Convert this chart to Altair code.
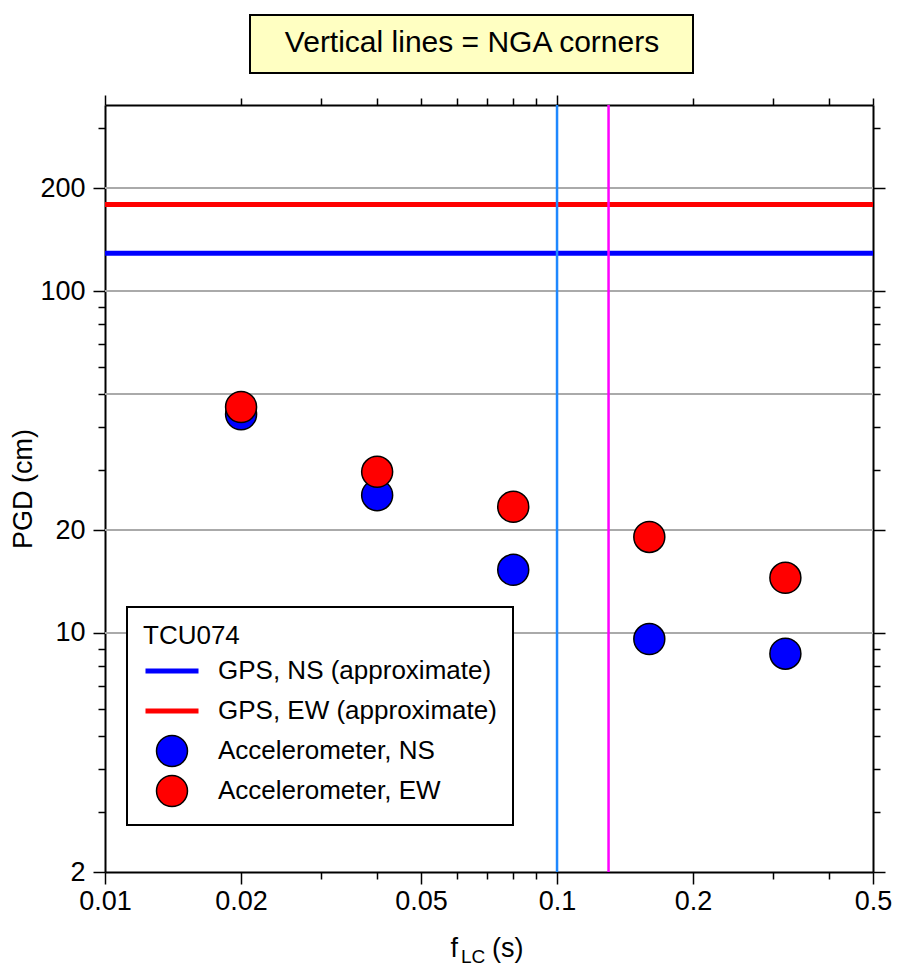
import json
import altair as alt
import pandas as pd

# ---------------- data ----------------
f_acc = [0.02, 0.04, 0.08, 0.16, 0.32]
pgd_ns = [43.6, 25.3, 15.3, 9.6, 8.7]
pgd_ew = [45.8, 29.6, 23.4, 19.1, 14.5]
gps_values = [129, 179]
nga_corners = [0.1, 0.13]
nga_colors = ["#1E88FF", "#FF00FF"]
grid_values = [10, 20, 50, 100, 200]
x_major = [0.01, 0.02, 0.05, 0.1, 0.2, 0.5]
x_minor = [0.03, 0.04, 0.06, 0.07, 0.08, 0.09, 0.3, 0.4]
x_top_major = [0.01, 0.1]
y_major = [2, 10, 20, 100, 200]
y_minor = [3, 4, 5, 6, 7, 8, 9, 30, 40, 50, 60, 70, 80, 90, 300]
series = ["GPS, NS (approximate)", "GPS, EW (approximate)",
          "Accelerometer, NS", "Accelerometer, EW"]
series_fill = ["#0000FF", "#FF0000", "#0000FF", "#FF0000"]
series_stroke = ["#0000FF", "#FF0000", "#000000", "#000000"]
series_shape = ["stroke", "stroke", "circle", "circle"]
series_size = [2809, 2809, 960, 960]
series_width = [5, 5, 1.5, 1.5]
box_text = "Vertical lines = NGA corners"

FONT = "Liberation Sans"

acc_df = pd.DataFrame({
    "f": f_acc + f_acc,
    "pgd": pgd_ns + pgd_ew,
    "series": [series[2]] * len(f_acc) + [series[3]] * len(f_acc),
})
gps_df = pd.DataFrame({"pgd": gps_values, "series": series[:2]})
nga_df = pd.DataFrame({"f": nga_corners, "idx": [0, 1], "note": [box_text] * 2})
grid_df = pd.DataFrame({"pgd": grid_values})

xscale = alt.Scale(type="log", domain=[0.01, 0.5], nice=False)
yscale = alt.Scale(type="log", domain=[2, 350], nice=False)


def test(vals):
    return "indexof(" + json.dumps(vals) + ", datum.value) >= 0"


def tick_size(vals, long=12, short=7):
    return {"condition": {"test": test(vals), "value": long}, "value": short}


x_bottom = alt.Axis(
    orient="bottom", values=x_major + x_minor, tickSize=tick_size(x_major),
    labelExpr=test(x_major) + " ? format(datum.value, '~g') : ''",
    labelPadding=4, title="f", titleX=345, titleY=84, titleAlign="left",
    titleBaseline="alphabetic",
)
x_top = alt.Axis(orient="top", values=x_major + x_minor, labels=False,
                 tickSize=tick_size(x_top_major, 10, 7), title=None)
x_sub = alt.Axis(orient="bottom", labels=False, ticks=False, domain=False,
                 title="LC", titleFontSize=19, titleX=355.5, titleY=90,
                 titleAlign="left", titleBaseline="alphabetic")
x_unit = alt.Axis(orient="bottom", labels=False, ticks=False, domain=False,
                  title="(s)", titleX=386.5, titleY=84,
                  titleAlign="left", titleBaseline="alphabetic")
y_left = alt.Axis(
    orient="left", values=y_major + y_minor, tickSize=tick_size(y_major),
    labelExpr=test(y_major) + " ? format(datum.value, '~g') : ''",
    labelPadding=8, title="PGD (cm)", titlePadding=2,
)
y_right = alt.Axis(orient="right", values=y_major + y_minor, labels=False,
                   tickSize=tick_size(y_major), title=None)

legend = alt.Legend(
    title="TCU074", orient="none", legendX=22, legendY=502,
    fillColor="white", strokeColor="black", padding=16,
    titleFontSize=26, titleFontWeight="normal", titleFont=FONT,
    titleColor="black", titlePadding=4,
    labelFontSize=26, labelFont=FONT, labelColor="black",
    labelOffset=17, labelLimit=600, clipHeight=36, rowPadding=4,
)

box_legend = alt.Legend(
    title=box_text, orient="none", legendX=145, legendY=-90,
    fillColor="#FFFFC2", strokeColor="black", padding=13,
    titleFontSize=30, titleFontWeight="normal", titleFont=FONT,
    titleColor="black", titleAnchor="middle", titleAlign="center",
    titleLimit=2000, titlePadding=0,
    labelExpr="''", labelOffset=0, labelFontSize=1,
    symbolType="stroke", symbolSize=417 ** 2, symbolStrokeWidth=0,
    symbolOpacity=0, clipHeight=2,
)

color = alt.Color("series:N", scale=alt.Scale(type="ordinal", domain=series, range=series_fill), legend=legend)
stroke = alt.Stroke("series:N", scale=alt.Scale(type="ordinal", domain=series, range=series_stroke), legend=legend)
shape = alt.Shape("series:N", scale=alt.Scale(type="ordinal", domain=series, range=series_shape), legend=legend)
size = alt.Size("series:N", scale=alt.Scale(type="ordinal", domain=series, range=series_size), legend=legend)
swidth = alt.StrokeWidth("series:N", scale=alt.Scale(type="ordinal", domain=series, range=series_width), legend=legend)

grid = alt.Chart(grid_df).mark_rule(color="#AAAAAA", strokeWidth=2).encode(
    y=alt.Y("pgd:Q", scale=yscale, axis=y_right)
)

gps = alt.Chart(gps_df).mark_rule().encode(
    y=alt.Y("pgd:Q", scale=yscale, axis=None),
    stroke=stroke, strokeWidth=swidth,
)

nga0 = alt.Chart(nga_df).transform_filter("datum.idx == 0").mark_rule(
    color=nga_colors[0], strokeWidth=2.5
).encode(
    x=alt.X("f:Q", scale=xscale, axis=x_top),
    strokeDash=alt.StrokeDash("note:N", scale=alt.Scale(domain=[box_text], range=[[1, 0]]), legend=box_legend),
)
nga1 = alt.Chart(nga_df).transform_filter("datum.idx == 1").mark_rule(
    color=nga_colors[1], strokeWidth=2.5
).encode(
    x=alt.X("f:Q", scale=xscale, axis=None),
)

points = alt.Chart(acc_df).mark_point(filled=True, opacity=1).encode(
    x=alt.X("f:Q", scale=xscale, axis=x_bottom),
    y=alt.Y("pgd:Q", scale=yscale, axis=y_left),
    color=color, stroke=stroke, shape=shape, size=size, strokeWidth=swidth,
)

sub_layer = alt.Chart(nga_df).mark_rule(strokeOpacity=0).encode(
    x=alt.X("f:Q", scale=xscale, axis=x_sub)
)
unit_layer = alt.Chart(nga_df).mark_rule(strokeOpacity=0).encode(
    x=alt.X("f:Q", scale=xscale, axis=x_unit)
)

chart = alt.layer(grid, gps, nga0, nga1, points, sub_layer, unit_layer).resolve_scale(
    x="shared", y="shared"
).resolve_axis(
    x="independent", y="independent"
).properties(
    width=768, height=767,
    autosize=alt.AutoSizeParams(type="none"),
    padding={"left": 105, "top": 105, "right": 25, "bottom": 95},
    background="white",
).configure_view(stroke=None).configure_axis(
    domainColor="black", domainWidth=2, tickColor="black", tickWidth=1.5,
    labelFont=FONT, labelFontSize=27, labelColor="black",
    titleFont=FONT, titleFontSize=27, titleFontWeight="normal", titleColor="black",
    grid=False, labelOverlap=False, labelFlush=False, labelBound=False,
).configure_legend(strokeWidth=2)

chart.save("out.html", embed_options={"renderer": "svg", "actions": False})
